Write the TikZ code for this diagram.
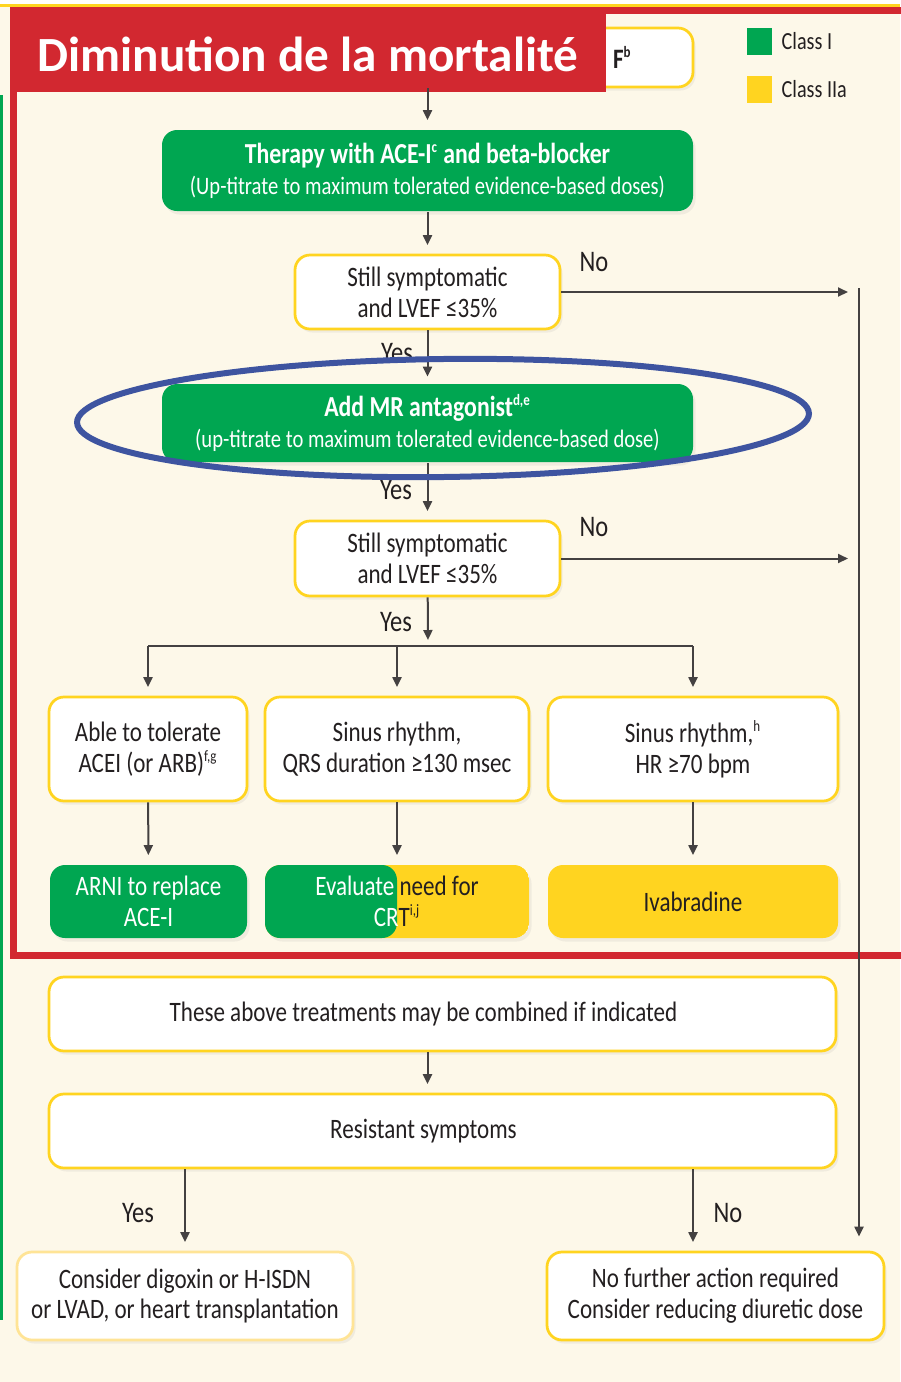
\documentclass[tikz,border=0pt]{standalone}
\usepackage{fontspec}
\setmainfont{Carlito}[FakeStretch=0.82]
\newfontfamily\titlefont{Carlito}
\usetikzlibrary{arrows.meta,shapes,shadows,positioning}
\definecolor{classI}{RGB}{0,166,81}
\definecolor{classIIa}{RGB}{255,212,32}
\definecolor{cream}{RGB}{253,248,233}
\definecolor{mortred}{RGB}{210,40,48}
\definecolor{ringblue}{RGB}{62,84,160}
\definecolor{ink}{RGB}{35,31,32}
\definecolor{paleyellow}{RGB}{255,228,150}
\newcommand{\supnote}[1]{\textsuperscript{\fontsize{9}{9}\selectfont #1}}
\tikzset{
	state/.style={
		rectangle,
		rounded corners=0.3cm,
		draw=classIIa, line width=0.055cm,
		fill=white,
		text=ink,
		align=center,
		inner sep=2pt,
		font=\fontsize{16}{17.5}\selectfont,
		drop shadow={opacity=0.1, shadow xshift=0.05cm, shadow yshift=-0.07cm},
	},
	greenstate/.style={state, draw=none, fill=classI, text=white},
	yellowstate/.style={state, draw=none, fill=classIIa, text=ink},
	keybox/.style={rectangle, minimum width=0.5cm, minimum height=0.54cm, inner sep=0pt},
	keytext/.style={inner sep=0pt, text=ink, font=\fontsize{14}{15}\selectfont},
	answer/.style={inner sep=0pt, text=ink, font=\fontsize{17}{18}\selectfont},
	flow/.style={->, color=ink!85, line width=0.04cm, shorten >=0.17cm},
}

\begin{document}
\begin{tikzpicture}[>={Triangle[length=0.2cm,width=0.18cm]}]
\fill[cream] (0,0) rectangle (18,-27.64);
\useasboundingbox (0,0) rectangle (18,-27.64);
\fill[white] (0,0) rectangle (18,-0.09);
\draw[classIIa, line width=0.05cm] (0,-0.11) -- (18,-0.11);
\draw[classI, line width=0.06cm] (0.03,-1.9) -- (0.03,-26.4);

% red frame round the mortality part
\draw[mortred, line width=0.14cm] (0.27,-0.21) rectangle (18.4,-19.11);

\node	(fbox)		[state, minimum width=10.66cm, minimum height=1.18cm, text width=10.3cm, align=right]	at (8.53,-1.15)	{\textbf{F\supnote{b}}\hspace*{1.05cm}};
\node	(title)		[fill=mortred, text=white, minimum width=11.92cm, minimum height=1.68cm, inner sep=0pt, text height=0.86cm, text depth=0pt, font=\titlefont\bfseries\fontsize{28}{30}\selectfont]	at (6.16,-1.0)	{Diminution de la mortalité};

\node	(classIkey)		[keybox, fill=classI]	at (15.19,-0.83)	{};
\node	(classIlabel)	[keytext, right=0.18cm of classIkey]	{Class I};
\node	(classIIakey)	[keybox, fill=classIIa]	at (15.19,-1.78)	{};
\node	(classIIalabel)	[keytext, right=0.18cm of classIIakey]	{Class IIa};

\node	(therapy)	[greenstate, minimum width=10.62cm, minimum height=1.62cm]	at (8.55,-3.41)	{{\fontsize{16.5}{18}\selectfont\bfseries Therapy with ACE-I\supnote{c} and beta-blocker}\\{\fontsize{14.3}{17}\selectfont (Up-titrate to maximum tolerated evidence-based doses)}};
\node	(sympt1)	[state, minimum width=5.3cm, minimum height=1.48cm]	at (8.55,-5.84)	{Still symptomatic\\and LVEF ≤35\%};
\node	(mra)		[greenstate, minimum width=10.62cm, minimum height=1.56cm]	at (8.55,-8.46)	{{\fontsize{16.5}{18}\selectfont\bfseries Add MR antagonist\supnote{d,e}}\\{\fontsize{14.3}{17}\selectfont (up-titrate to maximum tolerated evidence-based dose)}};
\node	(sympt2)	[state, minimum width=5.3cm, minimum height=1.5cm]	at (8.55,-11.17)	{Still symptomatic\\and LVEF ≤35\%};

\node	(tolerate)	[state, minimum width=3.96cm, minimum height=2.08cm]	at (2.96,-14.98)	{Able to tolerate\\ACEI (or ARB)\supnote{f,g}};
\node	(qrs)		[state, minimum width=5.28cm, minimum height=2.08cm]	at (7.94,-14.98)	{Sinus rhythm,\\QRS duration ≥130 msec};
\node	(hr)		[state, minimum width=5.8cm, minimum height=2.08cm]	at (13.86,-14.98)	{Sinus rhythm,\supnote{h}\\HR ≥70 bpm};

\node	(arni)		[greenstate, minimum width=3.94cm, minimum height=1.46cm]	at (2.97,-18.03)	{ARNI to replace\\ACE-I};
\node	(crt)		[state, draw=none, minimum width=5.28cm, minimum height=1.46cm,
	path picture={
		\fill[classIIa] (path picture bounding box.south west) rectangle (path picture bounding box.north east);
		\fill[classI] (path picture bounding box.south west) rectangle (path picture bounding box.north);
	}]	at (7.94,-18.03)	{{\color{white}Evaluate }need for\\{\color{white}CR}T\supnote{i,j}};
\node	(ivab)		[yellowstate, minimum width=5.8cm, minimum height=1.46cm]	at (13.86,-18.03)	{Ivabradine};

\node	(combined)	[state, minimum width=15.74cm, minimum height=1.48cm]	at (8.85,-20.28)	{\hspace*{-0.76cm}These above treatments may be combined if indicated};
\node	(resistant)	[state, minimum width=15.74cm, minimum height=1.48cm]	at (8.85,-22.62)	{\hspace*{-0.76cm}Resistant symptoms};

\node	(digoxin)	[state, draw=paleyellow, minimum width=6.72cm, minimum height=1.76cm]	at (3.7,-25.92)	{Consider digoxin or H-ISDN\\or LVAD, or heart transplantation};
\node	(nofurther)	[state, minimum width=6.74cm, minimum height=1.76cm]	at (14.31,-25.92)	{No further action required\\Consider reducing diuretic dose};

% answers
\node	(no1)		[answer]	at (11.88,-5.24)	{No};
\node	(yes1)		[answer]	at (7.94,-7.06)	{Yes};
\node	(yes2)		[answer]	at (7.92,-9.8)	{Yes};
\node	(no2)		[answer]	at (11.88,-10.54)	{No};
\node	(yes3)		[answer]	at (7.92,-12.44)	{Yes};
\node	(yes4)		[answer]	at (2.76,-24.26)	{Yes};
\node	(no4)		[answer]	at (14.56,-24.26)	{No};

\coordinate	(rail)	at (17.18,-5.76);
\coordinate	(split)	at (8.56,-12.92);

\path[flow] (fbox.south -| therapy) edge (therapy);
\path[flow] (therapy) edge (sympt1);
\path[flow, shorten >=0.12cm] (sympt1) edge (mra);
\path[flow] (mra) edge (sympt2);
\path[flow, shorten >=0.12cm] (sympt2) edge (split);
\draw[ink!85, line width=0.04cm] (split -| tolerate) -- (split -| hr);
\path[flow] (split -| tolerate) edge (tolerate);
\path[flow] (split -| qrs) edge (qrs);
\path[flow] (split -| hr) edge (hr);
\path[flow] (tolerate) edge (arni);
\path[flow] (qrs) edge (crt);
\path[flow] (hr) edge (ivab);
\path[flow] (combined.south -| sympt1) edge (sympt1 |- resistant.north);
\path[flow] (resistant.south -| digoxin) edge (digoxin);
\path[flow] (resistant.south -| hr) edge (nofurther.north -| hr);
\path[flow, shorten >=0.22cm] (sympt1) edge (sympt1 -| rail);
\path[flow, shorten >=0.22cm] (sympt2) edge (sympt2 -| rail);
\path[flow, shorten >=0.28cm] (rail) edge (rail |- nofurther.north);

% highlight round the MR antagonist step
\node	(mraring)	[ellipse, draw=ringblue, line width=0.12cm, minimum width=14.64cm, minimum height=2.36cm, rotate=0.7]	at (8.86,-8.36)	{};

\end{tikzpicture}
\end{document}
